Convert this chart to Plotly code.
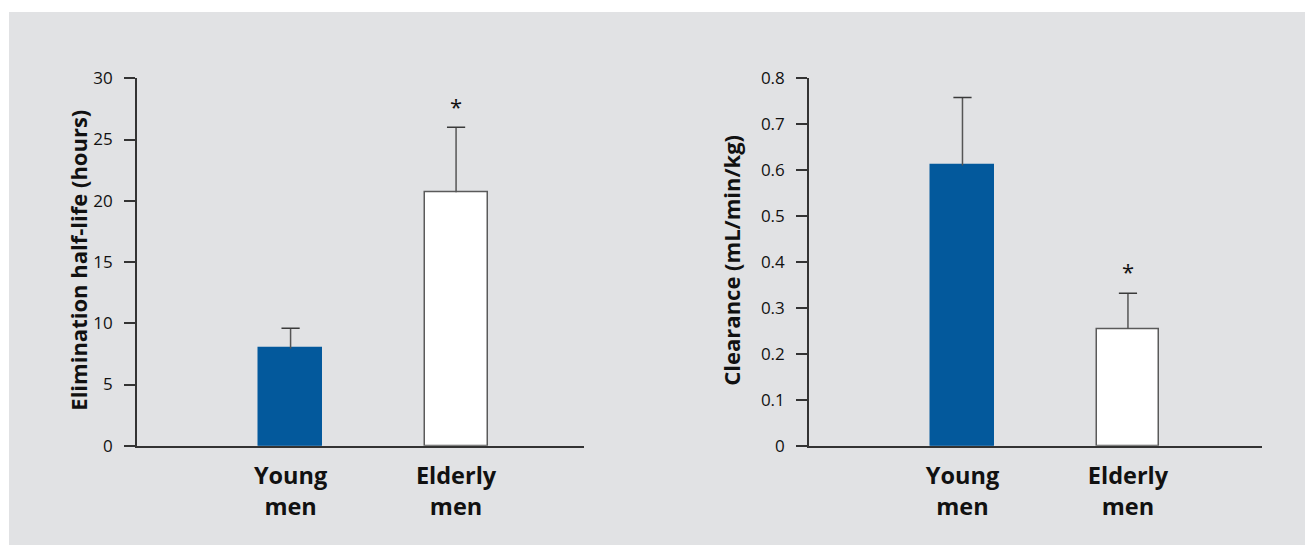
import plotly.graph_objects as go

# ---- data ----
categories = ["Young men", "Elderly men"]
category_labels = ["<b>Young</b><br><b>men</b>", "<b>Elderly</b><br><b>men</b>"]
halflife_mean = [7.95, 20.7]
halflife_sd = [1.65, 5.3]
clearance_mean = [0.61, 0.254]
clearance_sd = [0.148, 0.078]
halflife_ticks = [0, 5, 10, 15, 20, 25, 30]
clearance_ticks = [0, 0.1, 0.2, 0.3, 0.4, 0.5, 0.6, 0.7, 0.8]
clearance_ticktext = ["0", "0.1", "0.2", "0.3", "0.4", "0.5", "0.6", "0.7", "0.8"]
significant = [False, True]

BLUE = "#03599c"
GRAY_BG = "#e1e2e4"
AX = "#333333"
ERR = "#555555"
FONT = "Open Sans"
W, H = 1305, 556
# screen mapping compensation (observed render offset/scale vertically)
Y_OFF, Y_SCALE = 11.5, 0.958


def ypaper(y_screen):
    return 1 - (y_screen - Y_OFF) / Y_SCALE / H


fig = go.Figure()


def add_panel(xa, ya, means, sds, star_shift):
    fig.add_trace(go.Bar(
        x=categories, y=means, width=0.38,
        marker=dict(color=[BLUE, "white"], line=dict(color=[BLUE, "#5a5a5a"], width=1.5)),
        xaxis=xa, yaxis=ya, showlegend=False, hoverinfo="skip",
    ))
    xs, ys = [], []
    for c, m, s in zip(categories, means, sds):
        xs += [c, c, None]
        ys += [m, m + s, None]
    fig.add_trace(go.Scatter(
        x=xs, y=ys, mode="lines", line=dict(color=ERR, width=1.5),
        xaxis=xa, yaxis=ya, showlegend=False, hoverinfo="skip",
    ))
    fig.add_trace(go.Scatter(
        x=categories, y=[m + s for m, s in zip(means, sds)], mode="markers",
        marker=dict(symbol="line-ew-open", size=13, color="#3a3a3a",
                    line=dict(color="#3a3a3a", width=1.5)),
        xaxis=xa, yaxis=ya, showlegend=False, hoverinfo="skip",
    ))
    for c, m, s, sig in zip(categories, means, sds, significant):
        if sig:
            fig.add_annotation(
                x=c, y=m + s, xref=xa, yref=ya, text="*", showarrow=False,
                yanchor="middle", yshift=star_shift, font=dict(family=FONT, size=22, color="#111"),
            )


add_panel("x", "y", halflife_mean, halflife_sd, 21.5)
add_panel("x2", "y2", clearance_mean, clearance_sd, 22)

ydom = [ypaper(445), ypaper(77.7)]
common_x = dict(
    type="category", showline=True, linecolor=AX, linewidth=2, ticks="",
    showgrid=False, zeroline=False, tickvals=categories, ticktext=category_labels,
    tickfont=dict(family=FONT, size=23.5, color="#111"), ticklabelstandoff=8,
)
common_y = dict(
    showline=True, linecolor=AX, linewidth=1.6, ticks="outside", ticklen=11,
    tickwidth=1.5, tickcolor=AX, showgrid=False, zeroline=False, domain=ydom,
    tickfont=dict(family=FONT, size=17, color="#111"), ticklabelstandoff=8,
)

fig.update_layout(
    autosize=True,
    margin=dict(l=0, r=0, t=0, b=0),
    paper_bgcolor="white", plot_bgcolor="rgba(0,0,0,0)",
    bargap=0,
    xaxis=dict(**common_x, domain=[137 / W, 584 / W], range=[-0.928, 1.773], anchor="y"),
    yaxis=dict(**common_y, range=[0, 30], tickvals=halflife_ticks, anchor="x"),
    xaxis2=dict(**common_x, domain=[809 / W, 1262 / W], range=[-0.9275, 1.81], anchor="y2"),
    yaxis2=dict(**common_y, range=[0, 0.8], tickvals=clearance_ticks,
                ticktext=clearance_ticktext, anchor="x2"),
    shapes=[dict(type="rect", xref="paper", yref="paper", x0=9 / W, x1=1, y0=0, y1=1,
                 fillcolor=GRAY_BG, line=dict(width=0), layer="below")],
)

fig.add_annotation(x=61 / W, y=ypaper(260), xref="paper", yref="paper",
                   text="<b>Elimination half-life (hours)</b>", textangle=-90, showarrow=False,
                   font=dict(family=FONT, size=22, color="#111"))
fig.add_annotation(x=731 / W, y=ypaper(260), xref="paper", yref="paper",
                   text="<b>Clearance (mL/min/kg)</b>", textangle=-90, showarrow=False,
                   font=dict(family=FONT, size=22, color="#111"))

post = (
    "document.body.style.margin='0';"
    "document.body.style.overflow='hidden';"
    "document.body.style.background='linear-gradient(to right, #ffffff 9px, rgba(0,0,0,0) 9px),"
    " linear-gradient(to bottom, #ffffff 10px, " + GRAY_BG + " 10px)';"
)

fig.write_html(
    "out.html",
    default_width="100vw",
    default_height="100vh",
    config={"responsive": True, "displayModeBar": False},
    post_script=post,
)
